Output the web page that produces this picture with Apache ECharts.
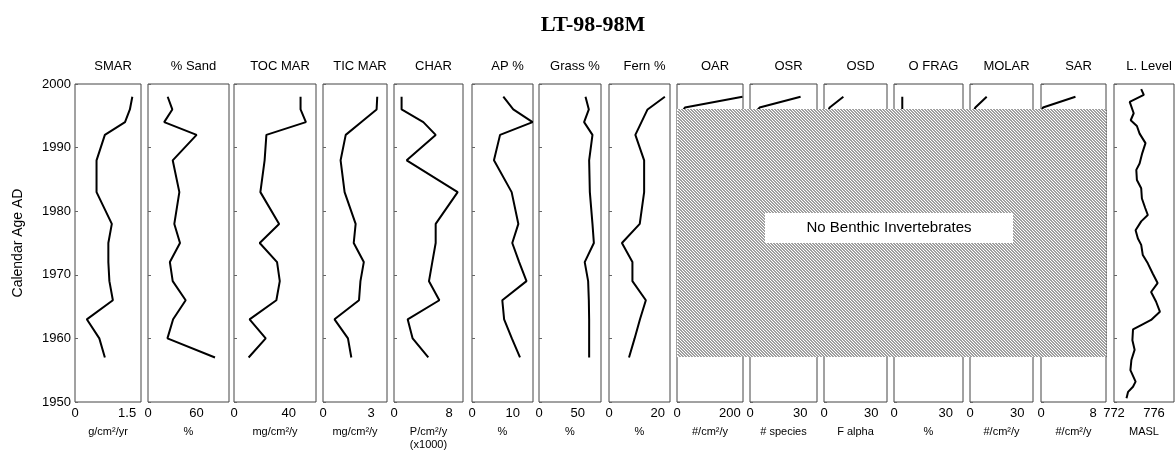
<!DOCTYPE html>
<html>
<head>
<meta charset="utf-8">
<script src="https://cdn.jsdelivr.net/npm/echarts@6/dist/echarts.min.js"></script>
<style>
html,body{margin:0;padding:0;background:#fff;}
#chart{width:1176px;height:453px;}
</style>
</head>
<body>
<div id="chart"></div>
<script>
// ---- Data ----
const chartTitle = "LT-98-98M";
const panelTitles = ["SMAR", "% Sand", "TOC MAR", "TIC MAR", "CHAR", "AP %", "Grass %", "Fern %", "OAR", "OSR", "OSD", "O FRAG", "MOLAR", "SAR", "L. Level"];
const unitLabels = ["g/cm²/yr", "%", "mg/cm²/y", "mg/cm²/y", "P/cm²/y\n(x1000)", "%", "%", "%", "#/cm²/y", "# species", "F alpha", "%", "#/cm²/y", "#/cm²/y", "MASL"];
const axisMins = [0, 0, 0, 0, 0, 0, 0, 0, 0, 0, 0, 0, 0, 0, 772];
const axisMaxs = [1.9, 100, 60, 4, 10, 15, 80, 25, 250, 40, 40, 40, 40, 10, 778];
const tickLabels = [[0, 1.5], [0, 60], [0, 40], [0, 3], [0, 8], [0, 10], [0, 50], [0, 20], [0, 200], [0, 30], [0, 30], [0, 30], [0, 30], [0, 8], [772, 776]];

const years = [1998, 1996, 1994, 1992, 1988, 1983, 1978, 1975, 1972, 1969, 1966, 1963, 1960, 1957];
const smar    = [1.65, 1.58, 1.44, 0.86, 0.62, 0.62, 1.06, 0.96, 0.96, 0.99, 1.09, 0.34, 0.70, 0.86];
const sand    = [24.3, 30, 20, 60, 30.5, 38.7, 32.5, 39.5, 27, 30.5, 46.5, 31, 24, 82.7];
const tocMar  = [48.7, 48.7, 52.6, 23.7, 22.4, 19.3, 33, 18.8, 31.5, 33.5, 31, 11.4, 23.2, 10.7];
const ticMar  = [3.39, 3.35, 2.38, 1.42, 1.10, 1.35, 2.04, 1.92, 2.55, 2.34, 2.25, 0.72, 1.56, 1.77];
const charV   = [1.1, 1.1, 4.25, 6.04, 1.84, 9.23, 6.04, 6.04, 5.55, 5.07, 6.57, 1.98, 2.7, 4.97];
const apPct   = [7.7, 10.15, 14.9, 6.9, 5.4, 9.75, 11.4, 9.9, 11.6, 13.4, 7.45, 7.9, 9.8, 11.8];
const grass   = [60, 64.3, 58.2, 69, 64.7, 65.6, 69, 70.8, 59, 63.4, 64.3, 64.7, 64.7, 64.7];
const fern    = [22.9, 15.8, 13.3, 10.8, 14.4, 14.4, 12.6, 5.3, 9.6, 9.6, 15.1, 12.7, 10.5, 8.2];

const benthicYears = [1998, 1996.3, 1995.8];
const oar   = [248, 30, 22];
const osr   = [30.2, 5.7, 4.1];
const osd   = [12.3, 3.6, 2.7];
const ofrag = [4.8, 4.8, 4.8];
const molar = [10.6, 3.4, 2.5];
const sar   = [5.3, 0.3, 0.1];

const levelYears  = [1999.2, 1998.3, 1997.2, 1995.4, 1994.3, 1993.4, 1992.2, 1990.7, 1989.1, 1987.5, 1986.5, 1984.9, 1983.6, 1982.0, 1980.5, 1979.4, 1978.4, 1977.0, 1975.7, 1974.7, 1973.1, 1971.8, 1970.2, 1968.7, 1967.3, 1965.8, 1964.2, 1962.9, 1962.1, 1961.4, 1959.7, 1958.2, 1956.6, 1955.0, 1953.2, 1952.4, 1951.6, 1950.6];
const levelValues = [774.72, 774.98, 773.57, 773.97, 773.67, 774.29, 774.56, 775.15, 774.82, 774.56, 774.23, 774.29, 774.72, 774.79, 775.12, 775.38, 774.72, 774.16, 774.39, 774.72, 774.88, 775.38, 775.87, 776.36, 775.71, 776.2, 776.59, 775.71, 774.72, 773.90, 773.84, 774.06, 773.74, 773.64, 774.16, 773.90, 773.41, 773.25];

const hatchTopYear = 1996;
const hatchBottomYear = 1957;
const hatchLabel = "No Benthic Invertebrates";
const yAxisTitle = "Calendar Age AD";

// ---- Layout (pixels) ----
const panelLefts  = [75, 148, 234, 323, 394, 472, 539, 609, 677, 750, 824, 894, 970, 1041, 1114];
const panelRights = [141, 229, 316, 387, 463, 533, 601, 670, 743, 817, 887, 963, 1033, 1106, 1174];
const gridTop = 84, gridBottom = 51;
const FONT = "Liberation Sans, Arial, sans-serif";

function pairs(xs, ys) { return xs.map((v, i) => [v, ys[i]]); }
const seriesData = [
  pairs(smar, years), pairs(sand, years), pairs(tocMar, years), pairs(ticMar, years),
  pairs(charV, years), pairs(apPct, years), pairs(grass, years), pairs(fern, years),
  pairs(oar, benthicYears), pairs(osr, benthicYears), pairs(osd, benthicYears),
  pairs(ofrag, benthicYears), pairs(molar, benthicYears), pairs(sar, benthicYears),
  pairs(levelValues, levelYears)
];

const grids = [], xAxes = [], yAxes = [], series = [], titles = [];
titles.push({
  text: chartTitle, left: 588, top: 9, textAlign: 'center',
  textStyle: { fontFamily: "Liberation Serif, Times New Roman, serif", fontWeight: 'bold', fontSize: 22, color: '#000' }
});
for (let i = 0; i < 15; i++) {
  const L = panelLefts[i], R = panelRights[i];
  grids.push({ left: L, width: R - L, top: gridTop, bottom: gridBottom, show: true, borderColor: '#444', borderWidth: 1,
    backgroundColor: 'transparent', containLabel: false, outerBoundsMode: 'none' });
  xAxes.push({
    type: 'value', gridIndex: i, min: axisMins[i], max: axisMaxs[i],
    axisLine: { show: false }, splitLine: { show: false },
    axisTick: { show: false },
    axisLabel: { show: true, customValues: tickLabels[i], fontFamily: FONT, fontSize: 13, color: '#000', margin: 5,
      formatter: v => String(v) },
    name: unitLabels[i], nameLocation: 'middle', nameGap: 23,
    nameTextStyle: { fontFamily: FONT, fontSize: 11, color: '#000', lineHeight: 13, verticalAlign: 'top' }
  });
  yAxes.push({
    type: 'value', gridIndex: i, min: 1950, max: 2000, interval: 10,
    axisLine: { show: false }, splitLine: { show: false },
    axisTick: { show: true, inside: true, length: 3, lineStyle: { color: '#666', width: 1 } },
    axisLabel: { show: i === 0, fontFamily: FONT, fontSize: 13, color: '#000', margin: 4, formatter: v => String(v) },
    name: i === 0 ? yAxisTitle : '', nameLocation: 'middle', nameGap: 50,
    nameTextStyle: { fontFamily: FONT, fontSize: 14, color: '#000' }
  });
  series.push({
    type: 'line', xAxisIndex: i, yAxisIndex: i, data: seriesData[i],
    showSymbol: false, symbol: 'none', smooth: false,
    lineStyle: { color: '#000', width: 2 }, z: 3
  });
  titles.push({
    text: panelTitles[i], left: (L + R) / 2, top: 55, textAlign: 'center',
    textStyle: { fontFamily: FONT, fontWeight: 'normal', fontSize: 13, color: '#000' }
  });
}

const chart = echarts.init(document.getElementById('chart'), null, { renderer: 'canvas' });
chart.setOption({
  animation: false,
  backgroundColor: '#fff',
  title: titles,
  grid: grids, xAxis: xAxes, yAxis: yAxes, series: series
});

// hatched block region from data years via the axes
const tl = chart.convertToPixel({ gridIndex: 8 }, [axisMins[8], hatchTopYear]);
const br = chart.convertToPixel({ gridIndex: 13 }, [axisMaxs[13], hatchBottomYear]);
const hx = Math.round(tl[0]), hy = Math.round(tl[1]), hw = Math.round(br[0] - tl[0]), hh = Math.round(br[1] - tl[1]);
const step = 3;
const graphics = [
  { type: 'rect', z: 99, shape: { x: hx, y: hy, width: hw, height: hh }, style: { fill: '#fff', stroke: null } }
];
for (let k = -hh; k <= hw; k += step) {
  const y0 = Math.max(0, -k), y1 = Math.min(hh, hw - k);
  if (y1 <= y0) continue;
  graphics.push({ type: 'line', silent: true, z: 100,
    shape: { x1: hx + k + y0 + 0.5, y1: hy + y0, x2: hx + k + y1 + 0.5, y2: hy + y1 },
    style: { stroke: '#2a2a2a', lineWidth: 0.9 } });
}
const bw = 248, bh = 30;
const bcx = Math.round(hx + hw / 2 - 3), bcy = Math.round(hy + hh * 0.48);
graphics.push(
  { type: 'rect', z: 101, shape: { x: bcx - bw / 2, y: bcy - bh / 2, width: bw, height: bh },
    style: { fill: '#fff', stroke: null } },
  { type: 'text', z: 102, x: bcx, y: bcy,
    style: { text: hatchLabel, fill: '#000', font: '15px ' + FONT, textAlign: 'center', textVerticalAlign: 'middle' } }
);
chart.setOption({ graphic: graphics });
</script>
</body>
</html>
